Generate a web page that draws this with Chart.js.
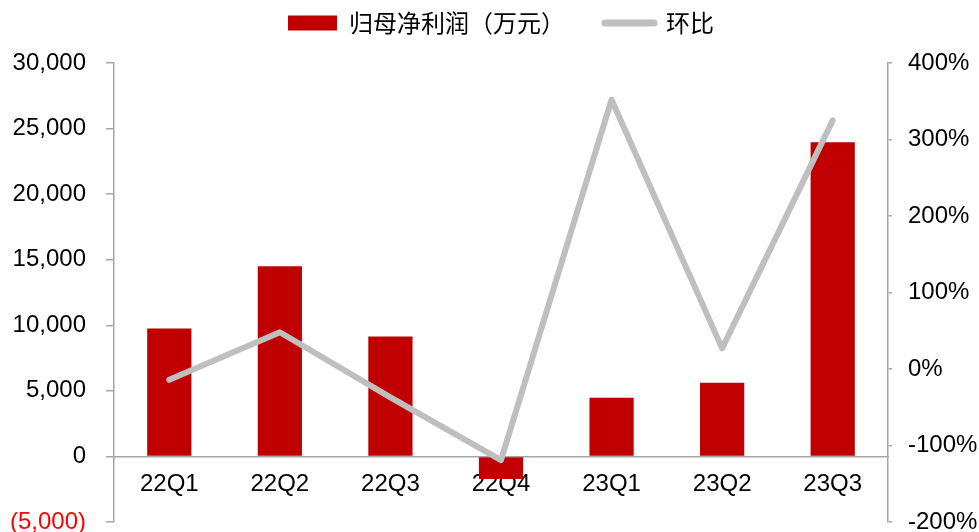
<!DOCTYPE html>
<html>
<head>
<meta charset="utf-8">
<script src="https://cdn.jsdelivr.net/npm/chart.js@4.4.0/dist/chart.umd.min.js"></script>
<style>
  html, body { margin: 0; padding: 0; background: #fff; }
  #wrap { width: 979px; height: 532px; }
</style>
</head>
<body>
<div id="wrap"><canvas id="chart"></canvas></div>
<script>
// 季度数据
const quarters = ['22Q1', '22Q2', '22Q3', '22Q4', '23Q1', '23Q2', '23Q3'];
const netProfit = [9760, 14500, 9150, -1730, 4470, 5610, 23960];   // 万元
const qoqGrowth = [-14, 48, -37, -119, 352, 27, 325];               // %

const axisGray = '#A6A6A6';
const tickFont = { family: "'Liberation Sans', Arial, sans-serif", size: 24 };

// 图例下方留白
const legendMargin = {
    id: 'legendMargin',
    beforeInit(chart) {
        const fit = chart.legend.fit;
        chart.legend.fit = function () {
            fit.call(this);
            this.height += 18;
        };
    }
};

// 纵轴宽度固定，上下不额外留白
const fixAxis = width => s => {
    s.width = width;
    s.paddingTop = 10;
    s.paddingBottom = 10;
};

const ctx = document.getElementById('chart').getContext('2d');
new Chart(ctx, {
    data: {
        labels: quarters,
        datasets: [
            {
                type: 'bar',
                label: '归母净利润（万元）',
                data: netProfit,
                backgroundColor: '#C00000',
                borderWidth: 0,
                categoryPercentage: 1,
                barPercentage: 0.4,
                yAxisID: 'y',
                order: 1
            },
            {
                type: 'line',
                label: '环比',
                data: qoqGrowth,
                borderColor: '#BFBFBF',
                backgroundColor: '#BFBFBF',
                borderWidth: 6,
                borderCapStyle: 'round',
                borderJoinStyle: 'round',
                pointRadius: 0,
                tension: 0,
                yAxisID: 'y1',
                order: 0
            }
        ]
    },
    options: {
        responsive: true,
        maintainAspectRatio: false,
        animation: false,
        layout: { padding: { top: -29, bottom: 10, left: 0, right: 0 } },
        plugins: {
            tooltip: { enabled: false },
            legend: {
                position: 'top',
                fullSize: false,   // 图例在绘图区上方居中
                labels: {
                    usePointStyle: true,
                    pointStyleWidth: 49,
                    boxHeight: 15,
                    padding: 40,
                    color: '#000',
                    font: { family: "'Noto Sans CJK SC', sans-serif", size: 24 },
                    generateLabels: chart => chart.data.datasets.map((ds, i) => ({
                        text: ds.label,
                        fillStyle: ds.backgroundColor,
                        strokeStyle: ds.type === 'line' ? ds.borderColor : ds.backgroundColor,
                        lineWidth: ds.type === 'line' ? 7 : 0,
                        lineCap: 'round',
                        pointStyle: ds.type === 'line' ? 'line' : 'rect',
                        datasetIndex: i,
                        hidden: false
                    }))
                }
            }
        },
        scales: {
            x: {
                position: { y: 0 },
                grid: { display: true, drawOnChartArea: false, drawTicks: false },
                border: { display: true, color: axisGray, width: 1.5 },
                ticks: { color: '#000', font: tickFont, padding: 14, maxRotation: 0 }
            },
            y: {
                position: 'left',
                min: -5000,
                max: 30000,
                grid: { drawOnChartArea: false, drawTicks: true, tickLength: 8, color: axisGray, lineWidth: 1.5 },
                border: { color: axisGray, width: 1.5 },
                ticks: {
                    stepSize: 5000,
                    padding: 20,
                    font: tickFont,
                    color: c => c.tick.value < 0 ? '#FF0000' : '#000',
                    callback: v => v < 0
                        ? '(' + Math.abs(v).toLocaleString('en-US') + ')'
                        : v.toLocaleString('en-US')
                },
                afterFit: fixAxis(114)
            },
            y1: {
                position: 'right',
                min: -200,
                max: 400,
                grid: { drawOnChartArea: false, drawTicks: true, tickLength: 4, color: axisGray, lineWidth: 1.5 },
                border: { color: axisGray, width: 1.5 },
                ticks: {
                    stepSize: 100,
                    padding: 16,
                    font: tickFont,
                    color: '#000',
                    callback: v => v + '%'
                },
                afterFit: fixAxis(91)
            }
        }
    },
    plugins: [legendMargin]
});
</script>
</body>
</html>
